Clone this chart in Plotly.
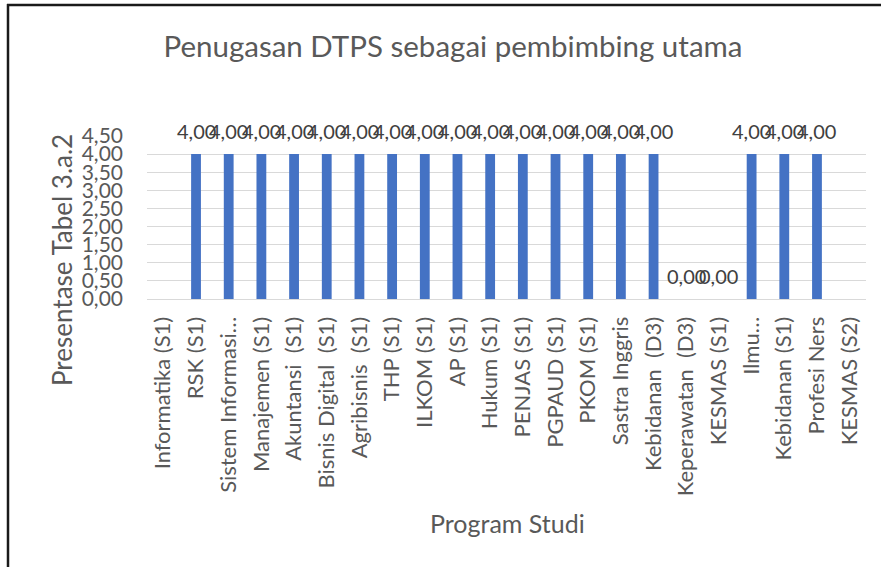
import plotly.graph_objects as go

categories = [
    "Informatika (S1)", "RSK (S1)", "Sistem Informasi…", "Manajemen (S1)",
    "Akuntansi\u00a0 (S1)", "Bisnis Digital\u00a0 (S1)", "Agribisnis\u00a0 (S1)", "THP (S1)",
    "ILKOM (S1)", "AP (S1)", "Hukum (S1)", "PENJAS (S1)", "PGPAUD (S1)",
    "PKOM (S1)", "Sastra Inggris", "Kebidanan\u00a0 (D3)", "Keperawatan\u00a0 (D3)",
    "KESMAS (S1)", "Ilmu…", "Kebidanan (S1)", "Profesi Ners", "KESMAS (S2)",
]
values = [None, 4, 4, 4, 4, 4, 4, 4, 4, 4, 4, 4, 4, 4, 4, 4, 0, 0, 4, 4, 4, None]
y_ticks = [0, 0.5, 1, 1.5, 2, 2.5, 3, 3.5, 4, 4.5]

title_text = "Penugasan DTPS sebagai pembimbing utama"
x_title = "Program Studi"
y_title = "Presentase Tabel 3.a.2"

FONT = "Lato"
GREY = "#595959"

fig = go.Figure()
fig.add_trace(go.Bar(
    x=categories, y=values,
    marker=dict(color="#4472C4", line=dict(width=0)),
    width=0.3,
    hoverinfo="x+y",
))

# data labels
for c, v in zip(categories, values):
    if v is None:
        continue
    fig.add_annotation(
        x=c, y=v, xref="x", yref="y",
        text=f"{v:.2f}".replace(".", ","),
        showarrow=False, yanchor="bottom", yshift=9,
        font=dict(family=FONT, size=20, color="#404040"),
    )

L, R, T, B = 147, 15, 136, 268
W, H = 881, 567
pw, ph = W - L - R, H - T - B

def px_x(px):
    return (px - L) / pw

def px_y(py):
    return (H - B - py) / ph

fig.update_layout(
    width=W, height=H,
    margin=dict(l=L, r=R, t=T, b=B, autoexpand=False),
    paper_bgcolor="white", plot_bgcolor="white",
    separators=",.",
    showlegend=False,
    title=dict(
        text=title_text, x=453 / W, xref="container", xanchor="center",
        y=1 - 47 / H, yref="container", yanchor="middle",
        font=dict(family=FONT, size=29.5, color=GREY),
    ),
    font=dict(family=FONT, color=GREY),
)

fig.update_xaxes(
    type="category", tickangle=-90,
    tickfont=dict(family=FONT, size=22, color=GREY),
    showgrid=False, showline=True, linecolor="#D9D9D9", linewidth=1,
    ticks="", ticklabelstandoff=8,
)
fig.update_yaxes(
    range=[0, 4.5], tickvals=y_ticks, tickformat=".2f",
    tickfont=dict(family=FONT, size=21, color=GREY),
    showgrid=True, gridcolor="#D9D9D9", gridwidth=1,
    zeroline=True, zerolinecolor="#D9D9D9", zerolinewidth=1,
    showline=False, ticks="", ticklabelstandoff=23,
)

# axis titles
fig.add_annotation(
    text=x_title, xref="paper", yref="paper", x=px_x(507), y=px_y(523),
    showarrow=False, xanchor="center", yanchor="middle",
    font=dict(family=FONT, size=25, color=GREY),
)
fig.add_annotation(
    text=y_title, xref="paper", yref="paper", x=px_x(62), y=px_y(260),
    showarrow=False, xanchor="center", yanchor="middle", textangle=-90,
    font=dict(family=FONT, size=26, color=GREY),
)

# chart frame (left and top edge)
fig.add_shape(type="line", xref="paper", yref="paper",
              x0=px_x(8), x1=px_x(8), y0=px_y(4), y1=px_y(H + 5),
              line=dict(color="#1a1a1a", width=2.5))
fig.add_shape(type="line", xref="paper", yref="paper",
              x0=px_x(7), x1=px_x(W + 5), y0=px_y(5), y1=px_y(5),
              line=dict(color="#1a1a1a", width=2.5))

fig.write_html(
    "out.html",
    config={"displayModeBar": False},
    post_script="document.body.style.margin='0';document.body.style.overflow='hidden';",
)
